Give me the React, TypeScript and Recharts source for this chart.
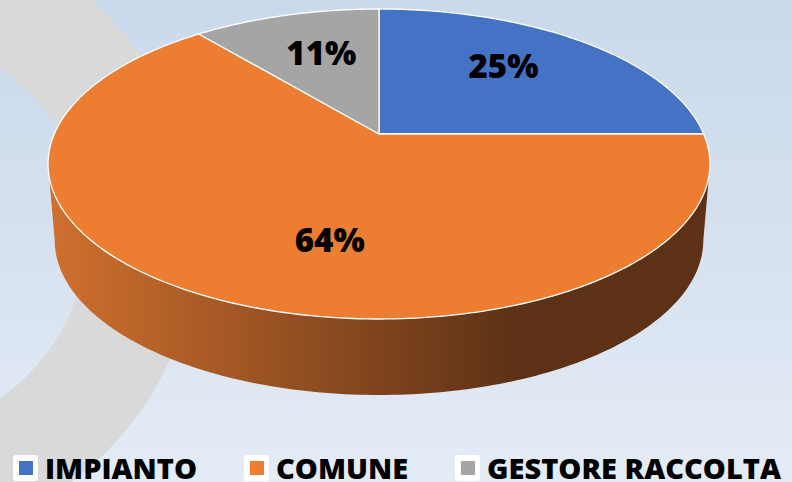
import React from 'react';
import { PieChart, Pie, Legend } from 'recharts';

const CATEGORIES = ['IMPIANTO', 'COMUNE', 'GESTORE RACCOLTA'];
const VALUES = [25, 64, 11];
const COLORS = ['#4472C4', '#ED7D31', '#A5A5A5'];

const data = CATEGORIES.map((name, i) => ({ name, value: VALUES[i] }));

const W = 792;
const H = 482;
const RX = 324.7;
const RY = 149.2;
const Q = 0.1935;
const DEPTH = 76;
const SHRINK = 0.98;
const RAD = Math.PI / 180;
const FONT = "'Open Sans', 'Noto Sans', sans-serif";

function proj(cx: number, cy: number, deg: number, r = 1): [number, number] {
  const a = deg * RAD;
  const s = Math.sin(a);
  const c = Math.cos(a);
  const d = 1 + Q * r * s;
  return [cx + (RX * r * c) / d, cy - (RY * r * s) / d];
}

function projBottom(cx: number, cy: number, deg: number): [number, number] {
  const [x, y] = proj(cx, cy, deg);
  return [cx + SHRINK * (x - cx), y + DEPTH];
}

function samples(a0: number, a1: number): number[] {
  const n = Math.max(2, Math.ceil(Math.abs(a1 - a0)));
  const out: number[] = [];
  for (let i = 0; i <= n; i++) out.push(a0 + ((a1 - a0) * i) / n);
  return out;
}

// angle halfway along the projected rim between two angles (by arc length)
function midByArc(cx: number, cy: number, a0: number, a1: number): number {
  const pts = samples(a0, a1);
  const lens: number[] = [0];
  for (let i = 1; i < pts.length; i++) {
    const [x0, y0] = proj(cx, cy, pts[i - 1]);
    const [x1, y1] = proj(cx, cy, pts[i]);
    lens.push(lens[i - 1] + Math.hypot(x1 - x0, y1 - y0));
  }
  const half = lens[lens.length - 1] / 2;
  for (let i = 1; i < pts.length; i++) {
    if (lens[i] >= half) {
      const t = (half - lens[i - 1]) / (lens[i] - lens[i - 1] || 1);
      return pts[i - 1] + (pts[i] - pts[i - 1]) * t;
    }
  }
  return (a0 + a1) / 2;
}

const renderSlice = (props: any) => {
  const { cx, cy, startAngle, endAngle, index } = props;
  let top = `M${cx},${cy}`;
  samples(startAngle, endAngle).forEach((a) => {
    const [x, y] = proj(cx, cy, a);
    top += ` L${x.toFixed(2)},${y.toFixed(2)}`;
  });
  top += ' Z';

  const lo = Math.min(startAngle, endAngle);
  const hi = Math.max(startAngle, endAngle);
  const sil = Math.asin(Q) / RAD;
  const sides: string[] = [];
  [-360, 0, 360].forEach((k) => {
    const a0 = Math.max(lo, -180 + sil + k);
    const a1 = Math.min(hi, -sil + k);
    if (a1 > a0) {
      let d = '';
      samples(a1, a0).forEach((a, i) => {
        const [x, y] = proj(cx, cy, a);
        d += `${i === 0 ? 'M' : 'L'}${x.toFixed(2)},${y.toFixed(2)} `;
      });
      samples(a0, a1).forEach((a) => {
        const [x, y] = projBottom(cx, cy, a);
        d += `L${x.toFixed(2)},${y.toFixed(2)} `;
      });
      d += 'Z';
      sides.push(d);
    }
  });

  const gid = `sideGrad${index}`;
  return (
    <g key={`slice-${index}`}>
      {sides.length > 0 && (
        <defs>
          <linearGradient id={gid} gradientUnits="userSpaceOnUse" x1={48} y1={0} x2={520} y2={0}>
            <stop offset="0" stopColor="#D0702E" />
            <stop offset="1" stopColor="#5C3116" />
          </linearGradient>
        </defs>
      )}
      {sides.map((d, i) => (
        <path key={i} d={d} fill={`url(#${gid})`} stroke="none" />
      ))}
      <path d={top} fill={COLORS[index]} stroke="#ffffff" strokeWidth={1.3} strokeLinejoin="round" />
    </g>
  );
};

const renderPct = (props: any) => {
  const { cx, cy, startAngle, endAngle, percent, index } = props;
  const m = midByArc(cx, cy, startAngle, endAngle);
  const [x, y] = proj(cx, cy, m, 0.64);
  return (
    <text
      key={`pct-${index}`}
      x={x + 4}
      y={y + 11.8}
      textAnchor="middle"
      fontFamily={FONT}
      fontWeight={800}
      fontSize={33}
      fill="#000000"
    >
      {`${Math.round(percent * 100)}%`}
    </text>
  );
};

const LegendContent = () => (
  <div style={{ display: 'flex', alignItems: 'center', paddingLeft: 13, height: 29 }}>
    {CATEGORIES.map((c, i) => (
      <div key={c} style={{ display: 'flex', alignItems: 'center', marginRight: 47 }}>
        <span
          style={{
            width: 25,
            height: 26,
            background: '#ffffff',
            borderRadius: 3,
            display: 'flex',
            alignItems: 'center',
            justifyContent: 'center',
            marginRight: 7,
          }}
        >
          <span style={{ width: 14, height: 14, background: COLORS[i], display: 'block' }} />
        </span>
        <span
          style={{
            fontFamily: FONT,
            fontWeight: 800,
            fontSize: 29,
            lineHeight: '29px',
            color: '#000000',
            whiteSpace: 'nowrap',
          }}
        >
          {c}
        </span>
      </div>
    ))}
  </div>
);

export default function App() {
  return (
    <div
      style={{
        position: 'absolute',
        left: 0,
        top: 0,
        width: W,
        height: H,
        overflow: 'hidden',
        background: 'linear-gradient(to bottom, #c9d9ec 0%, #d6e1ef 50%, #e4ecf6 100%)',
      }}
    >
      <svg width={W} height={H} style={{ position: 'absolute', left: 0, top: 0 }}>
        <circle cx={-113} cy={233} r={255} fill="none" stroke="#d9d9d9" strokeWidth={110} />
      </svg>
      <div style={{ position: 'absolute', left: 0, top: 0 }}>
        <PieChart width={W} height={H} margin={{ top: 0, right: 0, bottom: 0, left: 0 }}>
          <Pie
            data={data}
            dataKey="value"
            nameKey="name"
            cx={379}
            cy={134}
            outerRadius={100}
            startAngle={90}
            endAngle={-270}
            fill="none"
            stroke="none"
            label={renderSlice}
            labelLine={false}
            isAnimationActive={false}
          />
          <Pie
            data={data}
            dataKey="value"
            nameKey="name"
            cx={379}
            cy={134}
            outerRadius={100}
            startAngle={90}
            endAngle={-270}
            fill="none"
            stroke="none"
            label={renderPct}
            labelLine={false}
            isAnimationActive={false}
          />
          <Legend
            content={<LegendContent />}
            wrapperStyle={{ left: 0, top: 453, bottom: 'auto', width: W, height: 29 }}
          />
        </PieChart>
      </div>
    </div>
  );
}
